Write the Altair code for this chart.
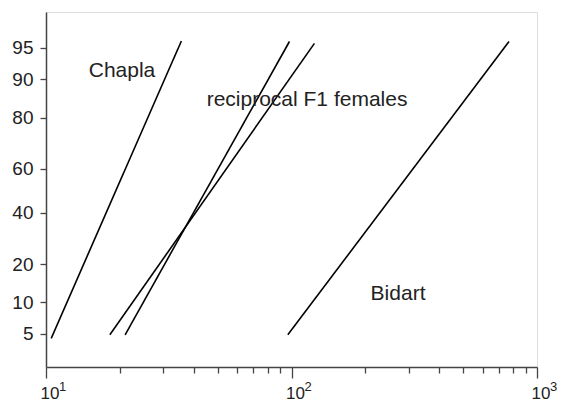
import altair as alt
import pandas as pd
from statistics import NormalDist

nd = NormalDist()

def probit(p):
    return nd.inv_cdf(p / 100.0)

# ---- data ----
series = ["Chapla", "F1 a", "F1 b", "Bidart"]
dose_low = [10.5, 18.2, 21.0, 96.6]
dose_high = [35.6, 124.0, 98.1, 769.0]
pct_low = [4.5, 4.9, 4.9, 4.9]
pct_high = [95.75, 95.5, 95.7, 95.7]

y_ticks = [5, 10, 20, 40, 60, 80, 90, 95]
x_major = [10, 100, 1000]
x_exponent = ["1", "2", "3"]
x_minor = [20, 30, 40, 50, 60, 70, 80, 90, 200, 300, 400, 500, 600, 700, 800, 900]

labels = ["Chapla", "reciprocal F1 females", "Bidart"]
label_dose = [20.4, 115.7, 271.6]
label_pct = [90.5, 83.5, 10.5]

# ---- build tables ----
rows = []
for s, d0, d1, p0, p1 in zip(series, dose_low, dose_high, pct_low, pct_high):
    rows.append({"series": s, "dose": d0, "probit": probit(p0), "order": 0})
    rows.append({"series": s, "dose": d1, "probit": probit(p1), "order": 1})
lines_df = pd.DataFrame(rows)

text_df = pd.DataFrame({
    "label": labels,
    "dose": label_dose,
    "probit": [probit(p) for p in label_pct],
})

sup_df = pd.DataFrame({"dose": x_major, "exp": x_exponent})

y_vals = [probit(p) for p in y_ticks]
y_label_expr = ""
for p, v in zip(y_ticks, y_vals):
    y_label_expr += f"abs(datum.value - ({v:.6f})) < 0.001 ? '{p}' : "
y_label_expr += "''"

major_test = "datum.value == 10 || datum.value == 100 || datum.value == 1000"
x_label_expr = f"({major_test}) ? '10' : ''"

FONT = "Liberation Sans"
W, H = 491, 355

x_scale = alt.Scale(type="log", domain=[10, 1000], nice=False)
y_scale = alt.Scale(domain=[-2.025, 2.056], nice=False, zero=False)

x_axis = alt.Axis(
    values=x_major + x_minor,
    labelExpr=x_label_expr,
    tickSize={"condition": {"test": major_test, "value": 11}, "value": 6},
    grid=False,
    title=None,
    labelAlign="left",
    labelOffset=-6,
    labelBaseline="alphabetic",
    labelPadding=20,
    labelFontSize=17,
    labelFont=FONT,
    labelColor="#222222",
    domainColor="#444444",
    tickColor="#444444",
    domainWidth=1.5,
    tickWidth=1.3,
    labelFlush=False,
    labelOverlap=False,
)

y_axis = alt.Axis(
    values=y_vals,
    labelExpr=y_label_expr,
    tickSize=6,
    grid=False,
    title=None,
    labelPadding=7,
    labelFontSize=19,
    labelFont=FONT,
    labelColor="#222222",
    domainColor="#444444",
    tickColor="#444444",
    domainWidth=1.5,
    tickWidth=1.3,
    labelOverlap=False,
)

lines = alt.Chart(lines_df).mark_line(color="black", strokeWidth=1.6).encode(
    x=alt.X("dose:Q", scale=x_scale, axis=x_axis),
    y=alt.Y("probit:Q", scale=y_scale, axis=y_axis),
    detail="series:N",
    order="order:Q",
)

texts = alt.Chart(text_df).mark_text(
    font=FONT, fontSize=21, color="#222222", align="center", baseline="alphabetic"
).encode(
    x=alt.X("dose:Q", scale=x_scale),
    y=alt.Y("probit:Q", scale=y_scale),
    text="label:N",
)

sups = alt.Chart(sup_df).mark_text(
    font=FONT, fontSize=13, color="#222222", align="left", baseline="alphabetic", dx=13
).encode(
    x=alt.X("dose:Q", scale=x_scale),
    y=alt.value(H + 24),
    text="exp:N",
)

chart = (lines + texts + sups).properties(
    width=W,
    height=H,
    autosize=alt.AutoSizeParams(type="none"),
    padding={"left": 38, "top": 4, "right": 22, "bottom": 34},
).configure_view(
    stroke="#555555", strokeWidth=1.3
).configure(background="white")

chart.save("out.html", embed_options={"renderer": "svg", "actions": False})
